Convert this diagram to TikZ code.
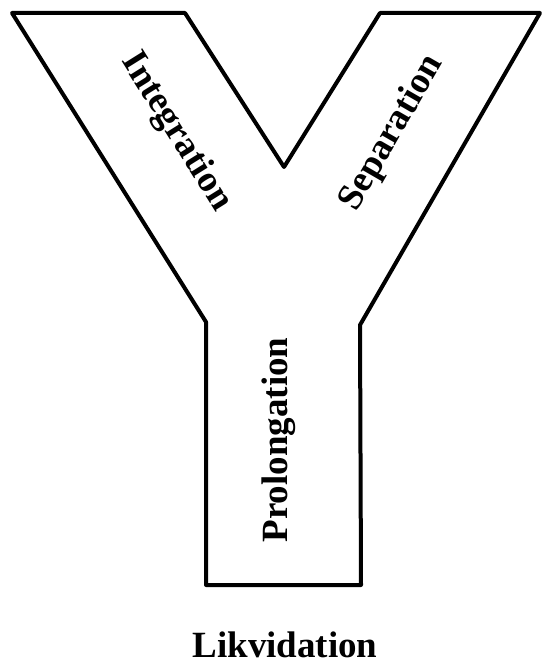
\documentclass[tikz,border=0pt]{standalone}
\usepackage{fontspec}
\setmainfont{Liberation Serif}
\begin{document}
\begin{tikzpicture}[x=1pt,y=-1pt,
  ylabel/.style={font=\bfseries\fontsize{37}{40}\selectfont, inner sep=0pt}]
\useasboundingbox (0,0) rectangle (549,663);
\coordinate (tlo) at (12,13);
\coordinate (tli) at (185,13);
\coordinate (cr) at (284,167);
\coordinate (tri) at (380,13);
\coordinate (tro) at (540,13);
\coordinate (rs) at (360,325);
\coordinate (br) at (361,585);
\coordinate (bl) at (206,585);
\coordinate (ls) at (206,322);
\draw[line width=4pt, line join=round] (tlo) -- (tli) -- (cr) -- (tri) -- (tro) -- (rs) -- (br) -- (bl) -- (ls) -- cycle;
\node[ylabel, rotate=-58] (int) at (176,132) {Integration};
\node[ylabel, rotate=60] (sep) at (392,133) {Separation};
\node[ylabel, rotate=90] (pro) at (279,440) {Prolongation};
\node[ylabel, anchor=base] (lik) at (285,657) {Likvidation};
\end{tikzpicture}
\end{document}
